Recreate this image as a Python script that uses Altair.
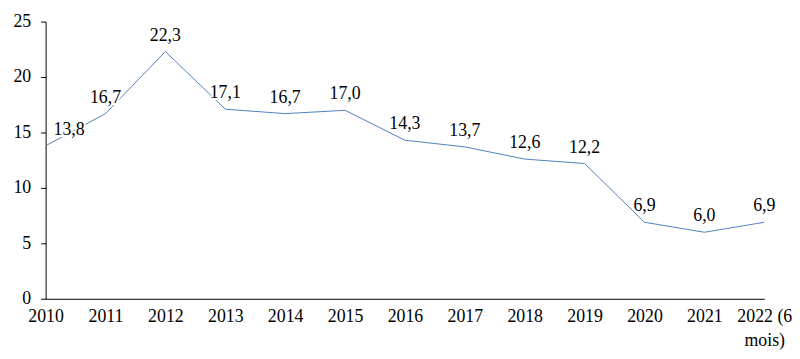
import altair as alt
import pandas as pd

years = ["2010", "2011", "2012", "2013", "2014", "2015", "2016",
         "2017", "2018", "2019", "2020", "2021", "2022 (6 mois)"]
values = [13.8, 16.7, 22.3, 17.1, 16.7, 17.0, 14.3, 13.7, 12.6, 12.2, 6.9, 6.0, 6.9]

df = pd.DataFrame({
    "year": years,
    "value": values,
    "label": [f"{v:.1f}".replace(".", ",") for v in values],
})

FONT = "Liberation Serif"
FS = 18
LINE = "#4F81BD"
DY = -11

x_enc = alt.X("year:O", sort=years, title=None,
              scale=alt.Scale(type="point", padding=0),
              axis=alt.Axis(labelAngle=0, ticks=False, domainColor="black",
                            labelPadding=9, labelFont=FONT, labelFontSize=FS,
                            labelColor="black", grid=False, labelLineHeight=24,
                            labelExpr="datum.value == '2022 (6 mois)' ? ['2022 (6', 'mois)'] : datum.value"))
y_enc = alt.Y("value:Q", title=None,
              scale=alt.Scale(domain=[0, 25], nice=False),
              axis=alt.Axis(values=[0, 5, 10, 15, 20, 25], grid=False,
                            domainColor="black", tickColor="black", tickSize=5,
                            labelPadding=10, labelFont=FONT, labelFontSize=FS,
                            labelColor="black"))

base = alt.Chart(df)

line = base.mark_line(color=LINE, strokeWidth=1).encode(x=x_enc, y=y_enc)

main = base.transform_filter("datum.year != '2010'")
first = base.transform_filter("datum.year == '2010'")

halo = main.mark_text(font=FONT, fontSize=FS, baseline="alphabetic", dy=DY,
                      stroke="white", strokeWidth=4, color="white").encode(
    x=alt.X("year:O", sort=years), y="value:Q", text="label:N")
txt = main.mark_text(font=FONT, fontSize=FS, baseline="alphabetic", dy=DY,
                     color="black").encode(
    x=alt.X("year:O", sort=years), y="value:Q", text="label:N")

halo1 = first.mark_text(font=FONT, fontSize=FS, baseline="alphabetic", dy=DY,
                        align="left", dx=8, stroke="white", strokeWidth=4,
                        color="white").encode(
    x=alt.X("year:O", sort=years), y="value:Q", text="label:N")
txt1 = first.mark_text(font=FONT, fontSize=FS, baseline="alphabetic", dy=DY,
                       align="left", dx=8, color="black").encode(
    x=alt.X("year:O", sort=years), y="value:Q", text="label:N")

chart = alt.layer(line, halo, txt, halo1, txt1).properties(
    width=726, height=280,
    autosize=alt.AutoSizeParams(type="none"),
    padding={"left": 38, "top": 12, "right": 28, "bottom": 50},
    background="white",
).configure_view(stroke=None)

chart.save("out.html", embed_options={"renderer": "svg", "actions": False})
